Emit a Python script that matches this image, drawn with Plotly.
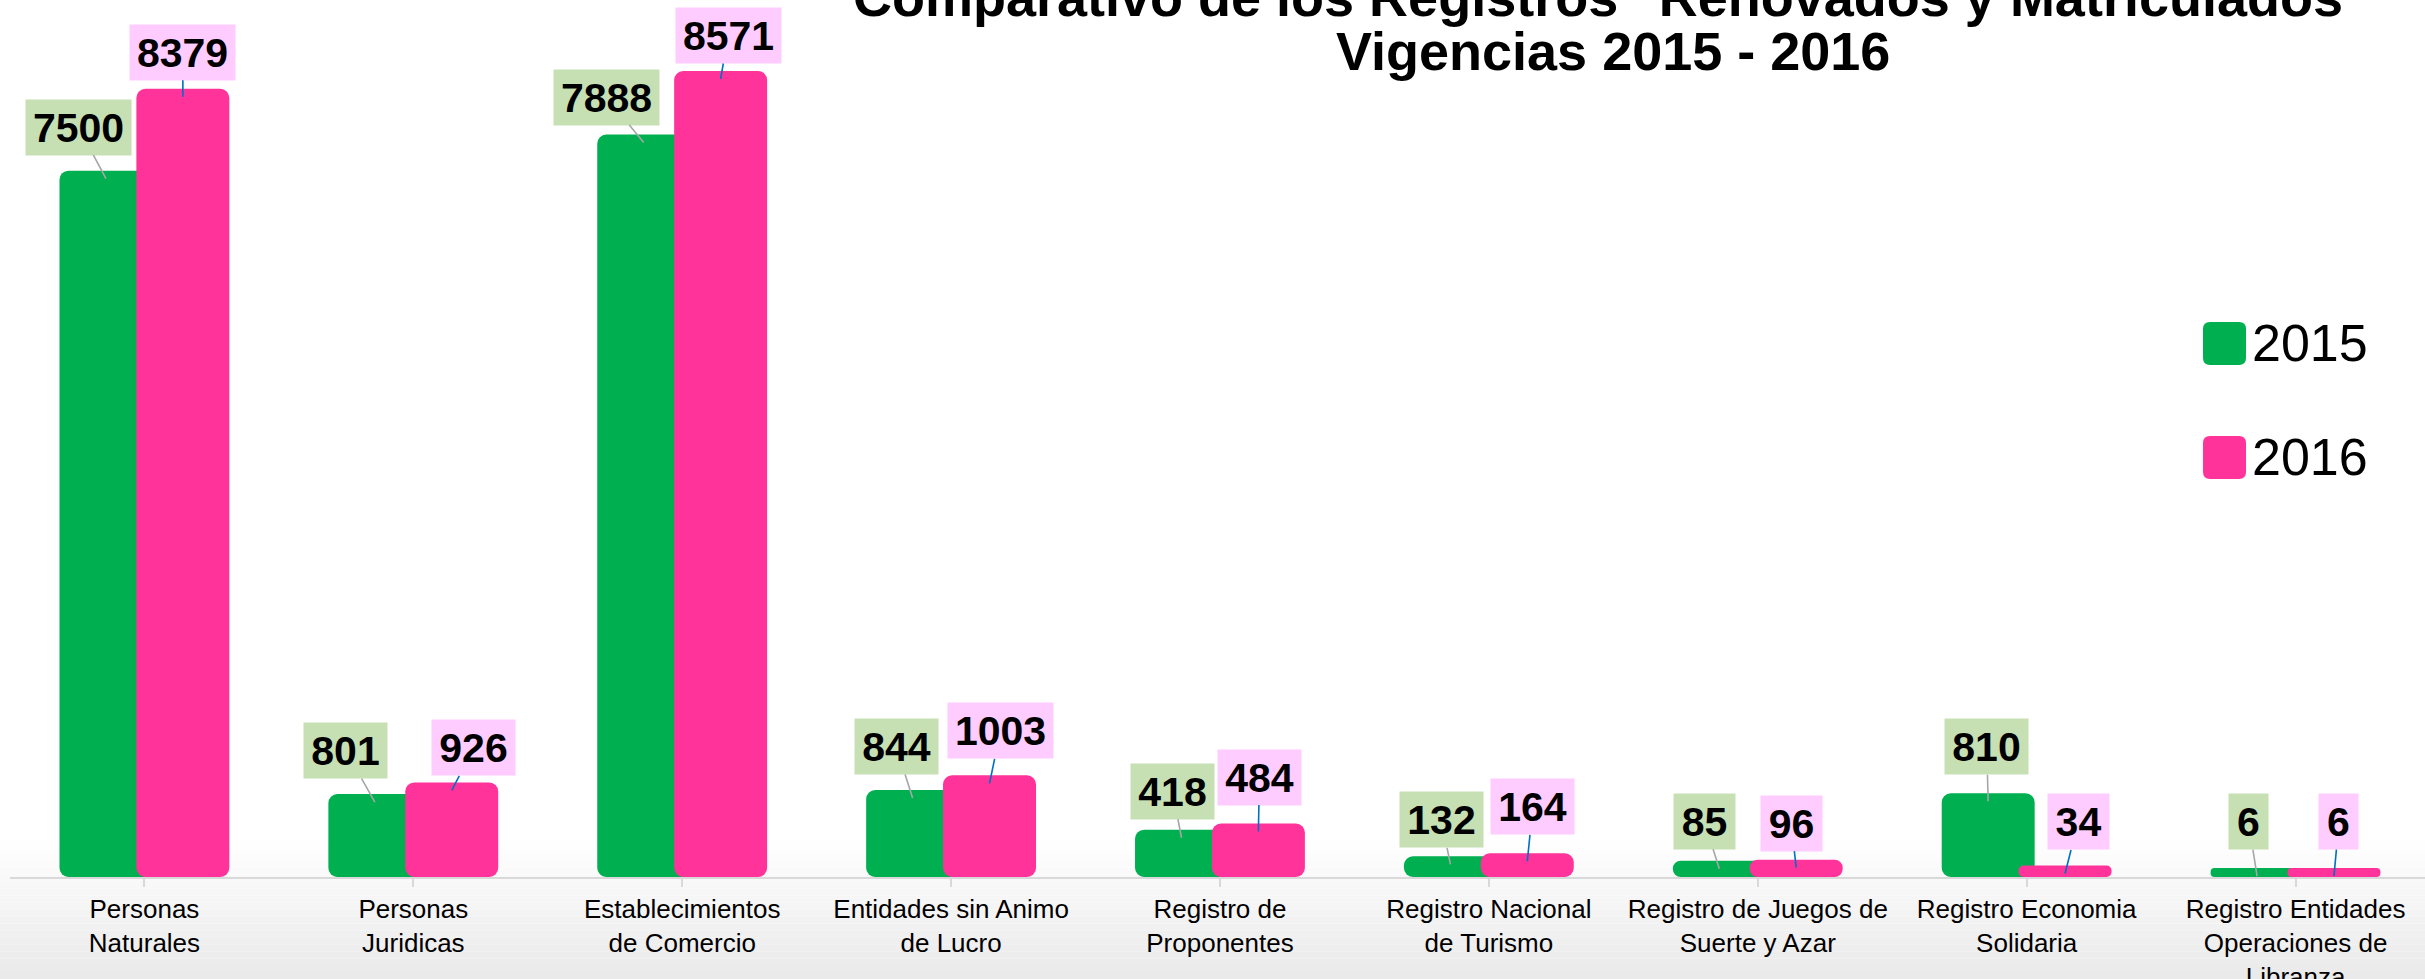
import plotly.graph_objects as go

# ---------------- data ----------------
categories = [
    "Personas<br>Naturales",
    "Personas<br>Juridicas",
    "Establecimientos<br>de Comercio",
    "Entidades sin Animo<br>de Lucro",
    "Registro de<br>Proponentes",
    "Registro Nacional<br>de Turismo",
    "Registro de Juegos de<br>Suerte y Azar",
    "Registro Economia<br>Solidaria",
    "Registro Entidades<br>Operaciones de<br>Libranza",
]
series_names = ["2015", "2016"]
values_2015 = [7500, 801, 7888, 844, 418, 132, 85, 810, 6]
values_2016 = [8379, 926, 8571, 1003, 484, 164, 96, 34, 6]

title_line1 = 'Comparativo de los Registros "Renovados y Matriculados"'
title_line2 = "Vigencias 2015 - 2016"

# ---------------- layout / style ----------------
W, H = 2425, 979
PL, PR, PT, PB = 10, 2425, 0, 877           # plot area in pixels
AXIS_MIN = -90                               # horizontal axis crosses here (bars grow from it)
AXIS_MAX = 9334
GREEN, PINK = "#00B050", "#FF3399"
GREEN_BOX, PINK_BOX = "#C6E0B4", "#FFCCFF"
FONT = "Arial, Liberation Sans, sans-serif"

BAR_W = 0.3457
OFF_2015, OFF_2016 = -0.316, -0.030
CTR_2015, CTR_2016 = OFF_2015 + BAR_W / 2, OFF_2016 + BAR_W / 2

# label offsets (pixels): horizontal shift of box, gap of box bottom above bar top
lbl_dx_2015 = [-27.5, -29, -37.5, -16.5, -9, -9, -15, -1.5, -8.5]
lbl_gap_2015 = [16, 16, 10, 16, 11, 9, 12, 19, 19]
lbl_dx_2016 = [0, 22, 7.5, 11, 1, 5.5, -5, 13, 5]
lbl_gap_2016 = [9, 7, 8, 17, 19, 19, 9, 16, 19]


def px2x(px):
    return (px - PL) / (PR - PL)


def px2y(py):
    return (PB - py) / (PB - PT)


x_idx = list(range(len(categories)))

fig = go.Figure()
for name, vals, off, col in [
    (series_names[0], values_2015, OFF_2015, GREEN),
    (series_names[1], values_2016, OFF_2016, PINK),
]:
    fig.add_trace(go.Bar(
        x=x_idx,
        y=[v - AXIS_MIN for v in vals],
        base=AXIS_MIN,
        customdata=vals,
        hovertemplate="%{customdata}<extra>" + name + "</extra>",
        name=name,
        width=BAR_W,
        offset=off,
        marker=dict(color=col, line=dict(width=0), cornerradius=9),
        showlegend=False,
    ))

annotations = []
# data labels with leader lines
for vals, ctr, dxs, gaps, box, lc in [
    (values_2015, CTR_2015, lbl_dx_2015, lbl_gap_2015, GREEN_BOX, "#A6A6A6"),
    (values_2016, CTR_2016, lbl_dx_2016, lbl_gap_2016, PINK_BOX, "#0070C0"),
]:
    for i, v in enumerate(vals):
        n = len(str(v))
        annotations.append(dict(
            x=i + ctr, y=v, xref="x", yref="y",
            text="<b>%d</b>" % v,
            font=dict(family=FONT, size=41, color="black"),
            bgcolor=box, borderpad=5, width=n * 22 + 7, height=45,
            showarrow=True, arrowhead=0, arrowwidth=1.6, arrowcolor=lc,
            standoff=0, startstandoff=0,
            ax=dxs[i], ay=-(gaps[i] + 35.5), yshift=-8,
            xanchor="center", yanchor="middle",
        ))

# title (top line partly cut by the canvas edge, as in the original)
annotations.append(dict(
    x=px2x(1611), y=px2y(-3), xref="paper", yref="paper",
    text="<b>" + title_line1 + "</b>", showarrow=False,
    font=dict(family=FONT, size=54, color="black"),
    xanchor="center", yanchor="middle",
))
annotations.append(dict(
    x=px2x(1613), y=px2y(51), xref="paper", yref="paper",
    text="<b>" + title_line2 + "</b>", showarrow=False,
    font=dict(family=FONT, size=54, color="black"),
    xanchor="center", yanchor="middle",
))

shapes = []
# soft gray gradient at the bottom of the chart
y_start, y_end, nb = 840, 979, 20
for k in range(nb):
    t0 = y_start + (y_end - y_start) * k / nb
    t1 = y_start + (y_end - y_start) * (k + 1) / nb
    g = round(255 - (255 - 233) * ((k + 0.5) / nb))
    shapes.append(dict(
        type="rect", xref="paper", yref="paper", layer="below",
        x0=px2x(0), x1=px2x(W), y0=px2y(t1), y1=px2y(t0),
        fillcolor="rgb(%d,%d,%d)" % (g, g, g), line=dict(width=0),
    ))


def rounded_square(x0, y0, size, r):
    ax0, ax1 = px2x(x0), px2x(x0 + size)
    ay0, ay1 = px2y(y0 + size), px2y(y0)
    rx, ry = r / (PR - PL), r / (PB - PT)
    return (
        f"M {ax0 + rx},{ay0} L {ax1 - rx},{ay0} Q {ax1},{ay0} {ax1},{ay0 + ry} "
        f"L {ax1},{ay1 - ry} Q {ax1},{ay1} {ax1 - rx},{ay1} "
        f"L {ax0 + rx},{ay1} Q {ax0},{ay1} {ax0},{ay1 - ry} "
        f"L {ax0},{ay0 + ry} Q {ax0},{ay0} {ax0 + rx},{ay0} Z"
    )


# legend (large rounded swatches as in the original)
for name, col, top in [(series_names[0], GREEN, 322), (series_names[1], PINK, 436)]:
    shapes.append(dict(
        type="path", xref="paper", yref="paper",
        path=rounded_square(2203, top, 43, 7),
        fillcolor=col, line=dict(width=0),
    ))
    annotations.append(dict(
        x=px2x(2250), y=px2y(top + 21), xref="paper", yref="paper",
        text=name, showarrow=False,
        font=dict(family=FONT, size=52, color="black"),
        xanchor="left", yanchor="middle",
    ))

fig.update_layout(
    width=W, height=H,
    margin=dict(l=PL, r=W - PR, t=PT, b=H - PB, pad=0, autoexpand=False),
    paper_bgcolor="white", plot_bgcolor="rgba(0,0,0,0)",
    barmode="overlay",
    showlegend=False,
    annotations=annotations,
    shapes=shapes,
    xaxis=dict(
        tickmode="array", tickvals=x_idx, ticktext=categories,
        range=[-0.5, len(categories) - 0.5 - 5 / 268.9],
        automargin=False,
        showline=True, linecolor="#D9D9D9", linewidth=2,
        ticks="outside", tickson="boundaries", ticklen=8, tickwidth=2, tickcolor="#D9D9D9",
        tickfont=dict(family=FONT, size=26, color="black"),
        showgrid=False, zeroline=False, fixedrange=True,
    ),
    yaxis=dict(
        range=[AXIS_MIN, AXIS_MAX], visible=False, showgrid=False, zeroline=False,
        fixedrange=True, automargin=False,
    ),
)

fig.write_html(
    "out.html",
    config={"displayModeBar": False},
    post_script="document.body.style.margin='0';document.body.style.overflow='hidden';",
)
